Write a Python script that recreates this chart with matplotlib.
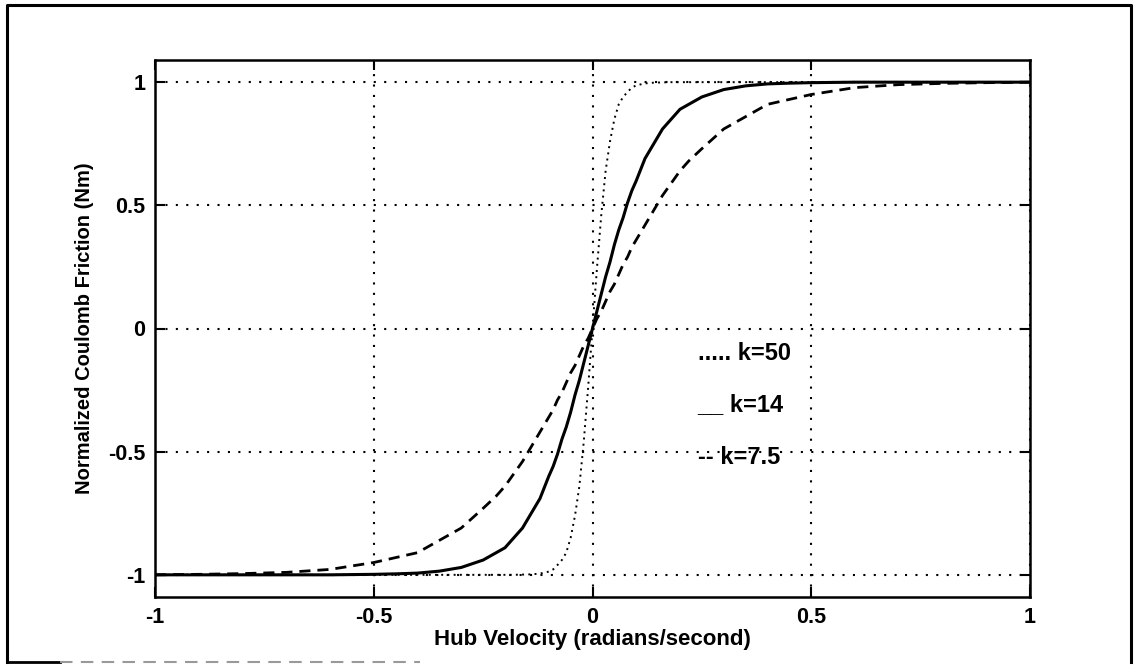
import matplotlib
matplotlib.use("Agg")
import matplotlib.pyplot as plt
from matplotlib.lines import Line2D

# hub velocity samples (rad/s) and normalized friction
vel = [-1.0, -0.9, -0.8, -0.7, -0.6, -0.5, -0.45, -0.4, -0.35, -0.3, -0.25, -0.22,
       -0.2, -0.18, -0.16, -0.14, -0.12, -0.1, -0.09, -0.08, -0.07, -0.06, -0.05,
       -0.04, -0.03, -0.02, -0.01, 0.0,
       0.01, 0.02, 0.03, 0.04, 0.05, 0.06, 0.07, 0.08, 0.09, 0.1, 0.12, 0.14,
       0.16, 0.18, 0.2, 0.22, 0.25, 0.3, 0.35, 0.4, 0.45, 0.5, 0.6, 0.7, 0.8,
       0.9, 1.0]
fric_k50 = [-1.0, -1.0, -1.0, -1.0, -1.0, -1.0, -1.0, -1.0, -1.0, -1.0, -1.0, -1.0,
            -1.0, -1.0, -0.999, -0.998, -0.995, -0.987, -0.978, -0.96, -0.94, -0.91, -0.85,
            -0.76, -0.64, -0.46, -0.24, 0.0,
            0.24, 0.46, 0.64, 0.76, 0.85, 0.91, 0.94, 0.96, 0.978, 0.987, 0.995, 0.998,
            0.999, 1.0, 1.0, 1.0, 1.0, 1.0, 1.0, 1.0, 1.0, 1.0, 1.0, 1.0, 1.0,
            1.0, 1.0]
fric_k14 = [-1.0, -1.0, -1.0, -1.0, -1.0, -0.998, -0.996, -0.993, -0.985, -0.97, -0.94, -0.91,
            -0.89, -0.85, -0.81, -0.75, -0.69, -0.60, -0.56, -0.51, -0.45, -0.40, -0.34,
            -0.27, -0.21, -0.14, -0.07, 0.0,
            0.07, 0.14, 0.21, 0.27, 0.34, 0.40, 0.45, 0.51, 0.56, 0.60, 0.69, 0.75,
            0.81, 0.85, 0.89, 0.91, 0.94, 0.97, 0.985, 0.993, 0.996, 0.998, 1.0, 1.0, 1.0,
            1.0, 1.0]
fric_k75 = [-1.0, -0.998, -0.995, -0.99, -0.978, -0.95, -0.93, -0.91, -0.86, -0.81, -0.73, -0.68,
            -0.64, -0.59, -0.54, -0.48, -0.42, -0.36, -0.33, -0.29, -0.26, -0.22, -0.18,
            -0.15, -0.11, -0.07, -0.04, 0.0,
            0.04, 0.07, 0.11, 0.15, 0.18, 0.22, 0.26, 0.29, 0.33, 0.36, 0.42, 0.48,
            0.54, 0.59, 0.64, 0.68, 0.73, 0.81, 0.86, 0.91, 0.93, 0.95, 0.978, 0.99, 0.995,
            0.998, 1.0]
ticks = [-1, -0.5, 0, 0.5, 1]
tick_labels = ["-1", "-0.5", "0", "0.5", "1"]
legend_text = ["..... k=50", "__ k=14", "-- k=7.5"]

plt.rcParams["font.family"] = ["Liberation Sans", "DejaVu Sans"]

fig = plt.figure(figsize=(11.38, 6.68), dpi=100)
ax = fig.add_axes([155 / 1138, 1 - 597 / 668, 875 / 1138, 537 / 668])

ax.plot(vel, fric_k50, color="black", lw=1.4, ls=(0, (1, 2.2)))
ax.plot(vel, fric_k14, color="black", lw=2.2, ls="-")
ax.plot(vel, fric_k75, color="black", lw=2.0, ls=(0, (4, 2.5)))

ax.set_xlim(-1, 1)
ax.set_ylim(-1.09, 1.09)
ax.set_xticks(ticks, tick_labels)
ax.set_yticks(ticks, tick_labels)
ax.grid(True, color="black", lw=1.5, ls=(0, (1, 4.0)))
ax.tick_params(direction="in", length=7, width=1.5, top=True, right=True,
               labelsize=15.5, pad=7)
for lab in ax.get_xticklabels() + ax.get_yticklabels():
    lab.set_fontweight("bold")
for s in ax.spines.values():
    s.set_linewidth(1.8)

ax.set_xlabel("Hub Velocity (radians/second)", fontsize=16, fontweight="bold", labelpad=1)
ax.set_ylabel("Normalized Coulomb Friction (Nm)", fontsize=14.5, fontweight="bold",
              labelpad=10)

# hand-placed labels as in the original figure
for txt, yy in zip(legend_text, [-0.10, -0.31, -0.525]):
    ax.text(0.24, yy, txt, fontsize=17, fontweight="bold", va="center", ha="left")

# outer frame of the scanned figure
fx = [7 / 1138, 1131 / 1138]
fy = [1 - 662 / 668, 1 - 5 / 668]
fig.add_artist(Line2D([fx[0], fx[0], fx[1], fx[1]], [fy[0], fy[1], fy[1], fy[0]],
                      color="black", lw=2.2, transform=fig.transFigure))
fig.add_artist(Line2D([fx[0], 60 / 1138], [fy[0], fy[0]], color="black", lw=2.0,
                      transform=fig.transFigure))
fig.add_artist(Line2D([60 / 1138, 420 / 1138], [fy[0], fy[0]], color="#999999", lw=1.5,
                      ls=(0, (6, 4)), transform=fig.transFigure))

fig.savefig("out.png", dpi=100)
